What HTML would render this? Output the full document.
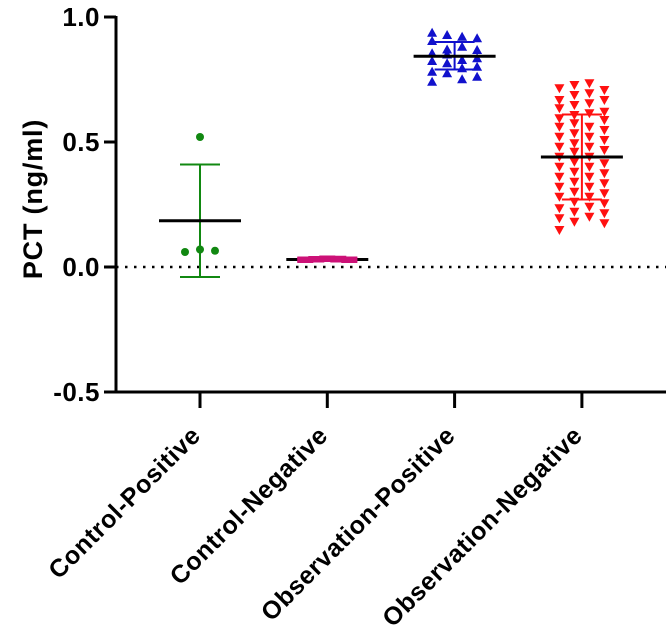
<!DOCTYPE html>
<html><head><meta charset="utf-8"><style>
html,body{margin:0;padding:0;background:#fff;}
svg{display:block;font-family:"Liberation Sans",Arial,sans-serif;font-weight:bold;}
</style></head><body>
<svg id="chart" width="669" height="641" viewBox="0 0 669 641"></svg>
<script>
const categories = ["Control-Positive","Control-Negative","Observation-Positive","Observation-Negative"];
const yTicks = [-0.5, 0.0, 0.5, 1.0];
const yTickLabels = ["-0.5","0.0","0.5","1.0"];
const means = [0.185, 0.03, 0.843, 0.44];
const errLow = [-0.04, 0.025, 0.79, 0.27];
const errHigh = [0.41, 0.035, 0.90, 0.61];
const cpValues = [[0.06],[0.07,0.52],[0.065]];
const cnValues = [[0.028,0.03],[0.03,0.032],[0.032,0.034],[0.033,0.03],[0.03,0.028]];
const opValues = [[0.937,0.904,0.855,0.824,0.781,0.741],[0.928,0.87,0.85,0.815,0.775],[0.921,0.881,0.828,0.795,0.751],[0.915,0.868,0.835,0.801,0.761]];
const onValues = [
 [0.715,0.668,0.635,0.595,0.561,0.521,0.481,0.441,0.401,0.361,0.321,0.281,0.235,0.195,0.148],
 [0.728,0.688,0.648,0.608,0.575,0.535,0.495,0.461,0.421,0.381,0.341,0.301,0.261,0.221,0.181],
 [0.735,0.695,0.655,0.615,0.561,0.521,0.481,0.441,0.401,0.361,0.321,0.281,0.241,0.201],
 [0.708,0.668,0.621,0.588,0.548,0.508,0.468,0.415,0.375,0.335,0.295,0.255,0.215,0.175]];
const colors = ["#118811","#cc1177","#1111cc","#ff1111"];

const NS="http://www.w3.org/2000/svg";
const svg=document.getElementById('chart');
const X0=116, X1=666, Y0=392, Y1=17;
function y(v){return Y0-(v-(-0.5))/(1.5)*(Y0-Y1);}
function x(i){return 200+i*127.3;}
function el(t,a,p){const e=document.createElementNS(NS,t);for(const k in a)e.setAttribute(k,a[k]);(p||svg).appendChild(e);return e;}

const zl=el('line',{x1:X0,x2:X1,y1:y(0),y2:y(0),stroke:'#000','stroke-width':2.5,'stroke-dasharray':'2.5 6.5'});



const ya=el('line',{x1:X0,x2:X0,y1:Y1-1,y2:Y0+1.5,stroke:'#000','stroke-width':3});


const xa=el('line',{x1:X0-1.5,x2:X1,y1:Y0,y2:Y0,stroke:'#000','stroke-width':3});



yTicks.forEach((t,i)=>{
 const tk=el('line',{x1:X0-12,x2:X0,y1:y(t),y2:y(t),stroke:'#000','stroke-width':3});
 
 
 const tl=el('text',{x:X0-16,y:y(t)+9,'text-anchor':'end','font-size':26,'letter-spacing':0.5,fill:'#000'});
 tl.textContent=yTickLabels[i];
 
 
});
const yt=el('text',{x:0,y:0,'text-anchor':'middle','font-size':27,'letter-spacing':0.8,fill:'#000',transform:'translate(42,199) rotate(-90)'});
yt.textContent='PCT (ng/ml)';



categories.forEach((c,i)=>{
 const tk=el('line',{x1:x(i),x2:x(i),y1:Y0,y2:Y0+16,stroke:'#000','stroke-width':3});
 
 
 const tl=el('text',{x:0,y:0,'text-anchor':'end','font-size':25,'letter-spacing':0.6,fill:'#000',transform:`translate(${x(i)+2},${Y0+45}) rotate(-45)`});
 tl.textContent=c;
 
 
});

function drawGroup(gi,vals,spacing,shape){
 const n=vals.length;
 vals.forEach((col,ci)=>{
  const cx=x(gi)+(ci-(n-1)/2)*spacing;
  col.forEach(v=>{
   const cy=y(v);let m;
   if(shape==='circle') m=el('circle',{cx:cx,cy:cy,r:4,fill:colors[gi]});
   else if(shape==='square') m=el('rect',{x:cx-8,y:cy-3,width:16,height:6,fill:colors[gi]});
   else if(shape==='up') m=el('polygon',{points:`${cx},${cy-5} ${cx-5},${cy+4} ${cx+5},${cy+4}`,fill:colors[gi]});
   else m=el('polygon',{points:`${cx},${cy+5} ${cx-5},${cy-4} ${cx+5},${cy-4}`,fill:colors[gi]});
   
   
  });
 });
}

categories.forEach((c,i)=>{
 if(i===1) return;
 const g=el('g',{});
 
 
 el('line',{x1:x(i),x2:x(i),y1:y(errLow[i]),y2:y(errHigh[i]),stroke:colors[i],'stroke-width':2},g);
 el('line',{x1:x(i)-20,x2:x(i)+20,y1:y(errLow[i]),y2:y(errLow[i]),stroke:colors[i],'stroke-width':2},g);
 el('line',{x1:x(i)-20,x2:x(i)+20,y1:y(errHigh[i]),y2:y(errHigh[i]),stroke:colors[i],'stroke-width':2},g);
});
// control-negative mean drawn beneath its points
const ml1=el('line',{x1:x(1)-41,x2:x(1)+41,y1:y(means[1]),y2:y(means[1]),stroke:'#000','stroke-width':3});



drawGroup(0,cpValues,15,'circle');
drawGroup(1,cnValues,11,'square');
drawGroup(2,opValues,15,'up');
drawGroup(3,onValues,15,'down');

categories.forEach((c,i)=>{
 if(i===1) return;
 const ml=el('line',{x1:x(i)-41,x2:x(i)+41,y1:y(means[i]),y2:y(means[i]),stroke:'#000','stroke-width':3});
 
 
});
</script>
</body></html>
